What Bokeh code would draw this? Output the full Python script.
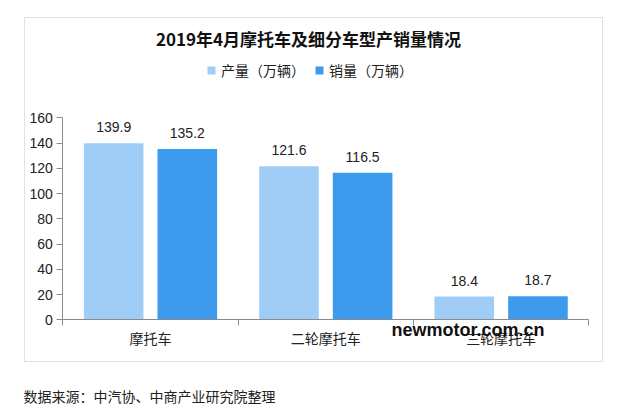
from bokeh.plotting import figure
from bokeh.models import (Range1d, LinearAxis, FixedTicker, Label, BoxAnnotation,
                          ColumnDataSource, Legend, LegendItem)
from bokeh.core.properties import value
from bokeh.embed import file_html
from bokeh.resources import INLINE

# ---------------- data ----------------
title_text = "2019年4月摩托车及细分车型产销量情况"
categories = ["摩托车", "二轮摩托车", "三轮摩托车"]
production = [139.9, 121.6, 18.4]
sales = [135.2, 116.5, 18.7]
series_names = ["产量（万辆）", "销量（万辆）"]
y_ticks = [0, 20, 40, 60, 80, 100, 120, 140, 160]
source_note = "数据来源：中汽协、中商产业研究院整理"
watermark = "newmotor.com.cn"

# ---------------- geometry (canvas pixels) ----------------
W, H = 625, 410
AX_X0 = 62.3      # left end of category axis
CAT_W = 175.33    # width of one category
Y0_PX = 319.3     # pixel row of value 0
Y160_PX = 117.3   # pixel row of value 160
K = (Y0_PX - Y160_PX) / 160.0


def dx(px):
    return (px - AX_X0) / CAT_W


def dy(py):
    return (Y0_PX - py) / K


LIGHT = "#a0cdf6"
DARK = "#3d9bee"
AXIS = "#8a8a8a"
CJK = "Noto Sans CJK SC"

p = figure(width=W, height=H,
           x_range=Range1d(dx(0), dx(W)), y_range=Range1d(dy(H), dy(0)),
           x_axis_type=None, y_axis_type=None,
           toolbar_location=None, output_backend="svg",
           min_border=0, outline_line_color=None,
           background_fill_color="white", border_fill_color="white")

# outer frame box
p.add_layout(BoxAnnotation(left=dx(24), right=dx(602), top=dy(17), bottom=dy(361),
                           fill_alpha=0, line_color="#9a9a9a", line_width=1,
                           level="underlay"))

# bars
n = len(categories)
idx = list(range(n))
src = ColumnDataSource(dict(
    x1=[i + 0.29 for i in idx], x2=[i + 0.71 for i in idx],
    prod=production, sales=sales,
    lp=[f"{v:.1f}" for v in production], ls=[f"{v:.1f}" for v in sales],
))
r1 = p.vbar(x="x1", top="prod", bottom=0, width=0.34, source=src,
            fill_color=LIGHT, line_color=None)
r2 = p.vbar(x="x2", top="sales", bottom=0, width=0.34, source=src,
            fill_color=DARK, line_color=None)

# value labels
for xcol, tcol, ycol in (("x1", "lp", "prod"), ("x2", "ls", "sales")):
    p.text(x=xcol, y=ycol, text=tcol, source=src, y_offset=-16,
           text_align="center", text_baseline="middle",
           text_font=value("Liberation Sans"), text_font_size="14px",
           text_color="#222222")

# y axis
yax = LinearAxis(fixed_location=0, bounds=(0, 160),
                 ticker=FixedTicker(ticks=y_ticks),
                 axis_line_color=AXIS, major_tick_line_color=AXIS,
                 major_tick_out=6, major_tick_in=0,
                 minor_tick_line_color=None,
                 major_label_standoff=4,
                 major_label_text_font="Liberation Sans",
                 major_label_text_font_size="14px",
                 major_label_text_color="#222222")
p.add_layout(yax, "left")

# x axis: category labels at centres, boundary ticks as minor ticks
centers = [i + 0.5 for i in idx]
xax = LinearAxis(fixed_location=0, bounds=(0, n),
                 ticker=FixedTicker(ticks=centers, minor_ticks=list(range(n + 1))),
                 major_label_overrides={c: lab for c, lab in zip(centers, categories)},
                 axis_line_color=AXIS,
                 major_tick_line_color=None, major_tick_out=0, major_tick_in=0,
                 minor_tick_line_color=AXIS, minor_tick_out=6, minor_tick_in=0,
                 major_label_standoff=2,
                 major_label_text_font=CJK,
                 major_label_text_font_size="14px",
                 major_label_text_color="#222222")
p.add_layout(xax, "below")

# legend
legend = Legend(items=[LegendItem(label=series_names[0], renderers=[r1]),
                       LegendItem(label=series_names[1], renderers=[r2])],
                orientation="horizontal", location=(206, H - 80),
                glyph_width=10, glyph_height=10, label_standoff=5, spacing=9,
                padding=0, margin=0, border_line_color=None,
                background_fill_alpha=0,
                label_text_font=CJK, label_text_font_size="14px",
                label_text_color="#222222", label_height=14)
p.add_layout(legend)

# title
p.add_layout(Label(x=dx(308), y=dy(38), text=title_text,
                   text_align="center", text_baseline="middle",
                   text_font=CJK, text_font_style="bold",
                   text_font_size="17px", text_color="#111111"))

# source note
p.add_layout(Label(x=dx(23), y=dy(395), text=source_note,
                   text_align="left", text_baseline="middle",
                   text_font=CJK, text_font_size="14px", text_color="#222222"))

# overlaid site mark
p.add_layout(Label(x=dx(467.5), y=dy(329), text=watermark,
                   text_align="center", text_baseline="middle",
                   text_font="Liberation Sans", text_font_style="bold",
                   text_font_size="18px", text_color="#111111"))

open("out.html", "w").write(file_html(p, INLINE))
